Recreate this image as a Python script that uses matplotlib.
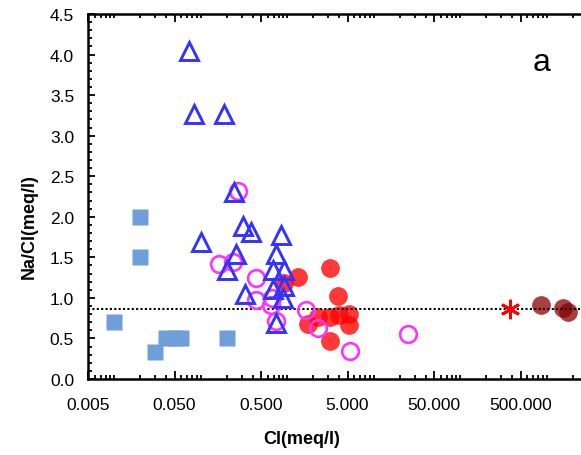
import matplotlib
matplotlib.use("Agg")
import matplotlib.pyplot as plt
from matplotlib.ticker import FixedLocator, FixedFormatter, LogLocator, MultipleLocator, NullFormatter

plt.rcParams['font.family'] = ['Liberation Sans', 'DejaVu Sans']

# ---- data ----
sq_x = [0.02, 0.02, 0.01, 0.03, 0.04, 0.05, 0.06, 0.2]
sq_y = [2.0, 1.5, 0.7, 0.33, 0.5, 0.5, 0.5, 0.5]

tri_x = [0.073, 0.083, 0.186, 0.243, 0.31, 0.385, 0.1, 0.855, 0.736, 0.254,
         0.203, 0.685, 0.918, 0.323, 0.685, 0.918, 0.89, 0.736]
tri_y = [4.05, 3.27, 3.27, 2.30, 1.89, 1.81, 1.69, 1.77, 1.54, 1.54,
         1.35, 1.35, 1.35, 1.05, 1.11, 1.15, 1.0, 0.69]

mag_x = [0.27, 0.163, 0.24, 0.44, 0.44, 0.67, 0.65, 0.74, 1.67, 2.27, 5.3, 25]
mag_y = [2.32, 1.42, 1.44, 1.24, 0.97, 1.0, 0.91, 0.71, 0.85, 0.63, 0.34, 0.56]

red_x = [0.93, 1.33, 3.1, 3.86, 1.74, 2.27, 3.1, 4.0, 5.27, 5.27, 3.1]
red_y = [1.18, 1.26, 1.37, 1.02, 0.68, 0.77, 0.76, 0.79, 0.80, 0.66, 0.47]

star_x = [380]
star_y = [0.86]

dark_x = [867, 1570, 1762]
dark_y = [0.91, 0.87, 0.82]

seawater_ratio = 0.86

xtick_vals = [0.005, 0.05, 0.5, 5, 50, 500]
xtick_labels = ["0.005", "0.050", "0.500", "5.000", "50.000", "500.000"]

# ---- figure ----
W, H = 581, 456
fig = plt.figure(figsize=(W / 100, H / 100), dpi=100)
L, R, T, B = 88, 582, 15, 380
ax = fig.add_axes([L / W, 1 - B / H, (R - L) / W, (B - T) / H])

ax.set_xscale('log')
ax.set_xlim(0.005, 0.005 * 10 ** ((R - L) / 86.5))
ax.set_ylim(0, 4.5)

ax.plot(sq_x, sq_y, 's', ms=11, color='#6f9fd8', mec='none', zorder=2)
ax.plot(red_x, red_y, 'o', ms=13.5, color='red', alpha=0.78, mec='none', zorder=3)
ax.plot(dark_x, dark_y, 'o', ms=13.5, color='#8b0000', alpha=0.75, mec='none', zorder=3)
ax.axhline(seawater_ratio, color='black', lw=1.5, dashes=(1, 1.1), zorder=4)
ax.plot(star_x, star_y, marker=(6, 2, 0), ms=14, color='red', mew=2, ls='none', zorder=5)
ax.plot(mag_x, mag_y, 'o', ms=12, mfc='none', mec='#ff33ff', mew=1.9, zorder=5)
ax.plot(tri_x, tri_y, '^', ms=12.5, mfc='none', mec='#3333ff', mew=2.1, zorder=6)

ax.xaxis.set_major_locator(FixedLocator(xtick_vals))
ax.xaxis.set_major_formatter(FixedFormatter(xtick_labels))
ax.xaxis.set_minor_locator(LogLocator(base=10, subs=range(1, 10), numticks=30))
ax.xaxis.set_minor_formatter(NullFormatter())
ax.yaxis.set_major_locator(MultipleLocator(0.5))
ax.yaxis.set_minor_locator(MultipleLocator(0.1))
ax.yaxis.set_major_formatter(plt.FuncFormatter(lambda v, p: f"{v:.1f}"))

ax.tick_params(which='both', direction='in', top=True, right=False, width=1.3, labelsize=12.5)
ax.tick_params(axis='x', which='major', length=6, pad=13)
ax.tick_params(axis='x', which='minor', length=3)
ax.tick_params(axis='y', which='major', length=5, pad=10)
ax.tick_params(axis='y', which='minor', length=3)
for s in ax.spines.values():
    s.set_linewidth(1.8)

ax.set_xlabel('Cl(meq/l)', fontsize=13, fontweight='bold')
ax.set_ylabel('Na/Cl(meq/l)', fontsize=13, fontweight='bold')
ax.xaxis.set_label_coords((302 - L) / (R - L), (B - 440) / (B - T))
ax.xaxis.label.set_va('center')
ax.yaxis.set_label_coords((29 - L) / (R - L), (B - 227) / (B - T))
ax.yaxis.label.set_va('center')

ax.text((541.7 - L) / (R - L), (B - 70.7) / (B - T), 'a', transform=ax.transAxes,
        ha='center', va='baseline', fontsize=23)

fig.savefig('out.png', dpi=100)
